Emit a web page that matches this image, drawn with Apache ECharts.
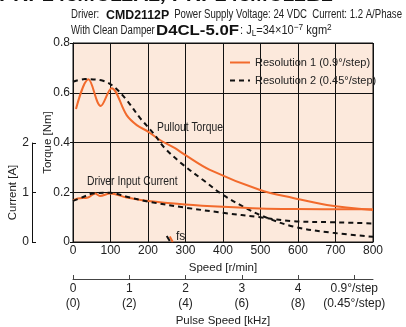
<!DOCTYPE html>
<html><head><meta charset="utf-8">
<script src="https://cdn.jsdelivr.net/npm/echarts@6/dist/echarts.min.js"></script>
<style>html,body{margin:0;padding:0;background:#fff}#c{width:406px;height:327px}</style>
</head><body><div id="c"></div>
<script>
const FONT = "'Liberation Sans',Arial,sans-serif";
// Speed [r/min] vs pullout torque [Nm]
const torque1Speed = [8, 41, 74, 103, 143, 170, 201, 232, 272, 299, 365, 499, 587, 677, 800];
const torque1 = [0.535, 0.654, 0.547, 0.618, 0.51, 0.47, 0.443, 0.41, 0.377, 0.35, 0.29, 0.209, 0.177, 0.149, 0.129];
const torque2Speed = [0, 32, 80, 107, 143, 179, 214, 245, 294, 347, 400, 463, 499, 587, 693, 800];
const torque2 = [0.644, 0.655, 0.648, 0.627, 0.571, 0.498, 0.438, 0.377, 0.31, 0.249, 0.189, 0.135, 0.108, 0.062, 0.037, 0.021];
// Speed [r/min] vs driver input current [A]
const current1Speed = [0, 13, 40, 59, 72, 99, 143, 201, 299, 400, 499, 587, 800];
const current1 = [0.84, 0.88, 0.90, 0.98, 0.93, 0.98, 0.90, 0.83, 0.76, 0.71, 0.675, 0.665, 0.66];
const current2Speed = [0, 27, 53, 99, 143, 201, 299, 400, 499, 587, 693, 800];
const current2 = [0.83, 0.91, 0.98, 0.995, 0.915, 0.815, 0.695, 0.59, 0.50, 0.42, 0.40, 0.375];
// Pulse speed axis ticks (kHz at 0.9°/step), 1 kHz = 150 r/min
const pulseTicks = [0, 1, 2, 3, 4, 5];
const pulseLabels = ['0\n(0)', '1\n(2)', '2\n(4)', '3\n(6)', '4\n(8)', '0.9°/step\n(0.45°/step)'];
const RPM_PER_KHZ = 150;
const seriesNames = ['Resolution 1 (0.9°/step)', 'Resolution 2 (0.45°/step)'];

const pair = (xs, ys) => xs.map((x, i) => [x, ys[i]]);
const ORANGE = '#f26a2c';
const tickVals = pulseTicks.map(t => t * RPM_PER_KHZ);

const chart = echarts.init(document.getElementById('c'));
const txt = {fontFamily: FONT, fontSize: 12, color: '#222'};
const nameTxt = {fontFamily: FONT, fontSize: 11.5, color: '#222'};
const norm = (x, y, text, align, sx) => ({type: 'text', x: x, y: y, scaleX: sx || 0.8,
  style: {text: text, font: '12px ' + FONT, fill: '#222', verticalAlign: 'middle', align: align || 'left'}});
chart.setOption({
  animation: false,
  textStyle: {fontFamily: FONT},
  grid: [
    {left: 73, top: 43, width: 300, height: 199, show: true, backgroundColor: '#fce9dc', borderColor: '#111', borderWidth: 1, outerBoundsMode: 'none', containLabel: false},
    {left: 73, top: 143, width: 300, height: 99, show: false, outerBoundsMode: 'none', containLabel: false}
  ],
  xAxis: [
    {gridIndex: 0, type: 'value', min: 0, max: 800, interval: 100,
     axisLine: {show: true, onZero: false, lineStyle: {color: '#111'}}, axisTick: {show: false},
     splitLine: {show: true, lineStyle: {color: '#111', width: 1}},
     axisLabel: Object.assign({margin: 3}, txt),
     name: 'Speed [r/min]', nameLocation: 'middle', nameGap: 20, nameTextStyle: nameTxt, nameMoveOverlap: false},
    {gridIndex: 1, type: 'value', min: 0, max: 800, show: false},
    {gridIndex: 0, type: 'value', min: 0, max: 800, position: 'bottom', offset: 37,
     axisLine: {show: true, onZero: false, lineStyle: {color: '#444'}},
     axisTick: {show: true, inside: true, length: 4, customValues: tickVals, lineStyle: {color: '#444'}},
     splitLine: {show: false},
     axisLabel: Object.assign({margin: 2, lineHeight: 15, customValues: tickVals,
       formatter: v => { const i = tickVals.indexOf(v); return i >= 0 ? pulseLabels[i] : ''; }}, txt),
     name: 'Pulse Speed [kHz]', nameLocation: 'middle', nameGap: 36, nameTextStyle: nameTxt, nameMoveOverlap: false}
  ],
  yAxis: [
    {gridIndex: 0, type: 'value', min: 0, max: 0.8, interval: 0.2,
     axisLine: {show: true, onZero: false, lineStyle: {color: '#111'}},
     axisTick: {show: true, length: 3, lineStyle: {color: '#111'}},
     splitLine: {show: true, lineStyle: {color: '#111', width: 1}},
     axisLabel: Object.assign({margin: 3, formatter: v => v === 0 ? '0' : v.toFixed(1)}, txt),
     name: 'Torque [Nm]', nameLocation: 'middle', nameGap: 19, nameRotate: 90, nameTextStyle: nameTxt, nameMoveOverlap: false},
    {gridIndex: 1, type: 'value', min: 0, max: 2, interval: 1, position: 'left', offset: 41,
     axisLine: {show: true, onZero: false, lineStyle: {color: '#111'}},
     axisTick: {show: true, inside: true, length: 4, lineStyle: {color: '#111'}},
     splitLine: {show: false},
     axisLabel: Object.assign({margin: 3}, txt),
     name: 'Current [A]', nameLocation: 'middle', nameGap: 13, nameRotate: 90, nameTextStyle: nameTxt, nameMoveOverlap: false}
  ],
  legend: {
    orient: 'vertical', left: 229, top: 57, padding: 0, itemWidth: 20, itemHeight: 10, itemGap: 7,
    itemStyle: {opacity: 0},
    data: seriesNames, textStyle: {fontFamily: FONT, fontSize: 11, color: '#222'}
  },
  series: [
    {name: seriesNames[0], type: 'line', xAxisIndex: 0, yAxisIndex: 0, smooth: 0.35, symbol: 'none',
     data: pair(torque1Speed, torque1), lineStyle: {color: ORANGE, width: 2}, itemStyle: {color: ORANGE},
     markLine: {silent: true, symbol: 'none', label: {show: false}, lineStyle: {color: ORANGE, width: 2, type: 'solid'},
       data: [[{coord: [258, 0.022]}, {coord: [266, 0]}]]}},
    {name: seriesNames[1], type: 'line', xAxisIndex: 0, yAxisIndex: 0, smooth: 0.35, symbol: 'none',
     data: pair(torque2Speed, torque2), lineStyle: {color: '#111', width: 2, type: [5, 4]}, itemStyle: {color: '#111'},
     markLine: {silent: true, symbol: 'none', label: {show: false}, lineStyle: {color: '#111', width: 2, type: 'solid'},
       data: [[{coord: [250, 0.024]}, {coord: [258, 0.004]}]]}},
    {name: seriesNames[0], type: 'line', xAxisIndex: 1, yAxisIndex: 1, smooth: 0.35, symbol: 'none',
     data: pair(current1Speed, current1), lineStyle: {color: ORANGE, width: 2}, itemStyle: {color: ORANGE}},
    {name: seriesNames[1], type: 'line', xAxisIndex: 1, yAxisIndex: 1, smooth: 0.35, symbol: 'none',
     data: pair(current2Speed, current2), lineStyle: {color: '#111', width: 2, type: [5, 4]}, itemStyle: {color: '#111'}}
  ],
  graphic: [
    {type: 'text', x: 0, y: -15, style: {text: 'PKP243MU12A2, PKP243MU12B2', font: "bold italic 21px 'Liberation Sans',sans-serif", fill: '#111'}},
    norm(71, 15, 'Driver:'),
    {type: 'text', x: 106, y: 15, scaleX: 0.95, style: {text: 'CMD2112P', font: 'bold 13px ' + FONT, fill: '#111', verticalAlign: 'middle'}},
    norm(402, 15, 'Power Supply Voltage: 24 VDC  Current: 1.2 A/Phase', 'right'),
    norm(71, 31, 'With Clean Damper'),
    {type: 'text', x: 156, y: 31, scaleX: 1.12, style: {text: 'D4CL-5.0F', font: 'bold 15px ' + FONT, fill: '#111', verticalAlign: 'middle'}},
    {type: 'text', x: 240, y: 31, scaleX: 0.92, style: {
      text: '{n|: J}{s|L}{n|=34×10}{p|−7}{n| kgm}{p|2}', verticalAlign: 'middle',
      rich: {n: {fontFamily: FONT, fontSize: 12, fill: '#222'},
             s: {fontFamily: FONT, fontSize: 9, fill: '#222', verticalAlign: 'bottom', padding: [6, 0, 0, 0]},
             p: {fontFamily: FONT, fontSize: 9, fill: '#222', verticalAlign: 'top', padding: [0, 0, 6, 0]}}}},
    {type: 'text', x: 157, y: 128, scaleX: 0.86, style: {text: 'Pullout Torque', font: '12px ' + FONT, fill: '#222', verticalAlign: 'middle'}},
    {type: 'text', x: 87, y: 182, scaleX: 0.86, style: {text: 'Driver Input Current', font: '12px ' + FONT, fill: '#222', verticalAlign: 'middle'}},
    {type: 'text', x: 176, y: 237, style: {text: 'fs', font: '12px ' + FONT, fill: '#222', verticalAlign: 'middle'}}
  ]
});
</script></body></html>
